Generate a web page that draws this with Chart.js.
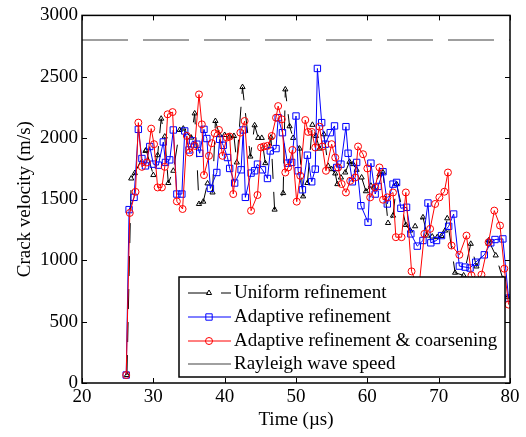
<!DOCTYPE html>
<html><head><meta charset="utf-8">
<script src="https://cdn.jsdelivr.net/npm/chart.js@4/dist/chart.umd.min.js"></script>
<style>html,body{margin:0;padding:0;background:#fff;}</style>
</head><body>
<canvas id="c" width="526" height="437" style="display:block;width:526px;height:437px"></canvas>
<script>
// ---- data (time in µs, crack velocity in m/s) ----
const uniformT = [26.3,26.9,27.4,28.9,29.0,30.0,30.6,31.1,31.6,32.1,32.8,33.7,34.2,35.3,35.8,36.4,37.0,37.6,38.3,38.7,39.3,40.0,40.7,41.3,41.7,42.5,43.6,44.2,44.7,45.2,45.7,46.5,47.0,48.2,48.5,49.1,49.6,50.5,51.0,51.6,52.3,52.8,53.3,53.9,54.5,55.0,55.5,55.8,56.3,56.9,57.5,58.0,58.5,59.2,59.8,60.5,60.9,61.7,62.2,62.9,63.6,64.1,65.4,66.0,66.7,67.8,68.4,69.1,69.8,70.4,70.9,71.2,72.3,73.5,74.5,75.3,77.0,78.0,79.0,79.7];
const uniformV = [65,1669,1713,1894,1900,1697,1859,2157,2011,1632,1732,2065,2076,2003,2200,1461,1480,1629,1555,2138,2022,2024,2011,2016,1800,2415,1848,2103,2000,2000,1794,2003,1415,1550,2396,2095,2000,1913,1523,1632,2107,2016,1913,2030,1772,1745,1710,1623,1677,1718,1805,1786,1740,1677,1565,1610,1596,1704,1718,1306,1366,1623,1290,1244,1279,1352,1203,1195,1190,1200,1244,1344,900,878,1136,951,1163,1041,850,700];

const adaptiveT = [26.2,26.6,27.3,27.9,28.4,28.9,29.5,30.0,30.7,31.4,31.7,32.3,32.8,33.3,34.0,34.4,35.0,35.5,36.1,36.5,37.1,37.5,38.0,38.9,39.3,39.8,40.4,40.7,41.4,42.3,42.6,42.9,43.7,44.2,44.6,45.3,46.0,46.4,47.2,47.5,48.1,48.8,49.4,50.0,50.3,50.9,51.6,52.2,52.7,53.0,53.6,54.1,54.8,55.4,55.7,56.3,57.0,57.3,57.9,58.5,59.1,60.1,60.5,61.1,61.5,62.2,62.8,63.6,64.1,64.7,65.5,66.1,67.0,67.8,68.5,68.9,69.7,70.4,71.4,72.1,72.9,73.7,74.4,75.2,76.4,77.3,77.9,79.0,79.8];
const adaptiveV = [65,1415,1515,2070,1832,1772,1930,1786,1778,1967,1800,1821,2065,1542,1542,2057,1902,1976,1949,1875,2070,1995,1588,1718,1989,1940,1840,1751,1632,1740,2065,1515,1713,1732,1786,1740,1669,1894,1913,2165,2043,1794,1800,2179,1732,1577,1859,1642,1745,2567,2125,1949,2043,2098,1759,1786,2092,1875,1642,1800,1447,1312,1794,1542,1604,1724,1461,1623,1637,1426,1434,1217,1117,1163,1469,1144,1163,1203,1279,1379,954,946,938,986,1046,1144,1171,1176,693];

const coarsenT = [26.2,26.7,27.5,27.9,28.4,29.1,29.7,30.1,30.6,31.2,31.6,32.0,32.7,33.3,34.1,34.7,35.1,35.8,36.4,36.8,37.1,37.8,38.2,38.6,39.2,39.7,40.3,40.7,41.2,42.2,42.8,43.7,44.6,45.1,45.5,46.0,46.6,47.2,47.5,48.0,48.5,48.9,49.5,50.1,50.6,51.3,51.7,52.2,52.7,53.3,53.7,54.2,55.0,55.5,55.9,56.4,57.0,57.6,58.3,58.7,59.4,60.0,60.4,61.1,61.7,62.2,62.8,63.6,64.0,64.8,65.4,66.2,67.2,68.0,68.8,69.5,70.1,70.8,71.3,71.8,72.9,73.9,74.6,75.3,76.0,77.0,77.8,78.6,79.2,79.8];
const coarsenV = [65,1388,1560,2125,1764,1800,2076,1949,1596,1596,1764,2193,2211,1482,1420,2016,1881,1935,2355,2111,1697,1854,1957,2038,2065,1854,2003,2011,1542,2043,2138,1406,1534,1922,1930,1935,2016,2165,2260,2152,1718,1759,1902,1480,1691,2146,2049,2049,1922,2092,1930,1732,1949,1840,1759,1624,1555,1650,1677,1930,1867,1751,1515,1596,1759,1496,1515,1555,1190,1190,1555,911,760,1217,1258,1461,1515,1561,1718,1122,1046,1203,878,820,884,1149,1407,1285,933,640];

const rayleighT = [20,80];
const rayleighV = [2800,2800];

const xTicks = [20,30,40,50,60,70,80];
const yTicks = [0,500,1000,1500,2000,2500,3000];

const labels = ['Uniform refinement','Adaptive refinement','Adaptive refinement & coarsening','Rayleigh wave speed'];

const pts = (t,v) => t.map((x,i)=>({x, y:v[i]}));
const FONT = '"Liberation Serif","Times New Roman",serif';

const framePlugin = {
  id:'frame',
  afterDatasetsDraw(chart){
    const {ctx, chartArea:a, scales:{x,y}} = chart;
    ctx.save();
    ctx.strokeStyle='#000'; ctx.lineWidth=1;
    const L=5;
    ctx.beginPath();
    xTicks.forEach(v=>{const p=Math.round(x.getPixelForValue(v))+0.5;
      ctx.moveTo(p,a.bottom); ctx.lineTo(p,a.bottom-L);
      ctx.moveTo(p,a.top); ctx.lineTo(p,a.top+L);});
    yTicks.forEach(v=>{const p=Math.round(y.getPixelForValue(v))+0.5;
      ctx.moveTo(a.left,p); ctx.lineTo(a.left+L,p);
      ctx.moveTo(a.right,p); ctx.lineTo(a.right-L,p);});
    ctx.stroke();
    ctx.lineWidth=1.5;
    ctx.strokeRect(a.left,a.top,a.right-a.left,a.bottom-a.top);
    ctx.restore();
  }
};

const legendPlugin = {
  id:'boxlegend',
  afterDraw(chart){
    const ctx = chart.ctx;
    const bx=179, by=277, bw=326, bh=100;
    ctx.save();
    ctx.fillStyle='#fff'; ctx.fillRect(bx,by,bw,bh);
    ctx.strokeStyle='#000'; ctx.lineWidth=1.5; ctx.strokeRect(bx,by,bw,bh);
    const rows=[293,317,341,364];
    const ds = chart.data.datasets;
    ds.forEach((d,i)=>{
      const yy=rows[i];
      ctx.save();
      ctx.strokeStyle=d.borderColor; ctx.lineWidth=d.borderWidth;
      ctx.setLineDash(d.borderDash||[]);
      ctx.beginPath(); ctx.moveTo(188,yy); ctx.lineTo(231,yy); ctx.stroke();
      ctx.setLineDash([]);
      if (d.pointRadius>0){
        ctx.fillStyle=d.pointBackgroundColor;
        ctx.strokeStyle=d.pointBorderColor; ctx.lineWidth=1;
        Chart.helpers.drawPoint(ctx,{pointStyle:d.pointStyle,radius:d.pointRadius,borderWidth:1,rotation:0},209,yy);
      }
      ctx.restore();
      ctx.fillStyle='#000'; ctx.font='19px '+FONT; ctx.textBaseline='middle'; ctx.textAlign='left';
      ctx.fillText(d.label,234,yy);
    });
    ctx.restore();
  }
};

new Chart(document.getElementById('c'),{
  type:'scatter',
  data:{datasets:[
    {label:labels[0],data:pts(uniformT,uniformV),showLine:true,borderColor:'#000',borderWidth:1,borderDash:[20,13],
     pointStyle:'triangle',pointRadius:3,pointBorderColor:'#000',pointBackgroundColor:'rgba(0,0,0,0)',pointBorderWidth:1,order:2},
    {label:labels[1],data:pts(adaptiveT,adaptiveV),showLine:true,borderColor:'#0000ff',borderWidth:1,
     pointStyle:'rect',pointRadius:4.5,pointBorderColor:'#0000ff',pointBackgroundColor:'rgba(0,0,0,0)',pointBorderWidth:1,order:1},
    {label:labels[2],data:pts(coarsenT,coarsenV),showLine:true,borderColor:'#ff0000',borderWidth:1,
     pointStyle:'circle',pointRadius:3.5,pointBorderColor:'#ff0000',pointBackgroundColor:'rgba(0,0,0,0)',pointBorderWidth:1,order:0},
    {label:labels[3],data:pts(rayleighT,rayleighV),showLine:true,borderColor:'#808080',borderWidth:1.5,borderDash:[46,15],
     pointRadius:0,order:3}
  ]},
  options:{
    responsive:false, animation:false, devicePixelRatio:1,
    layout:{padding:{left:0,right:16,top:14,bottom:0}},
    plugins:{legend:{display:false},tooltip:{enabled:false}},
    scales:{
      x:{type:'linear',min:20,max:80,
        afterFit:s=>{s.height=54;},
        afterBuildTicks:s=>{s.ticks=xTicks.map(v=>({value:v}));},
        grid:{display:false,drawTicks:false},border:{display:false},
        ticks:{color:'#000',font:{family:FONT,size:19},padding:3,maxRotation:0,callback:v=>String(v)},
        title:{display:true,text:'Time (µs)',color:'#000',font:{family:FONT,size:19},padding:{top:0,bottom:6}}},
      y:{type:'linear',min:0,max:3000,
        afterFit:s=>{s.width=82;},
        afterBuildTicks:s=>{s.ticks=yTicks.map(v=>({value:v}));},
        grid:{display:false,drawTicks:false},border:{display:false},
        ticks:{color:'#000',font:{family:FONT,size:19},padding:4,callback:v=>String(v)},
        title:{display:true,text:'Crack velocity (m/s)',color:'#000',font:{family:FONT,size:19},padding:{top:14,bottom:0}}}
    }
  },
  plugins:[framePlugin,legendPlugin]
});
</script>
</body></html>
